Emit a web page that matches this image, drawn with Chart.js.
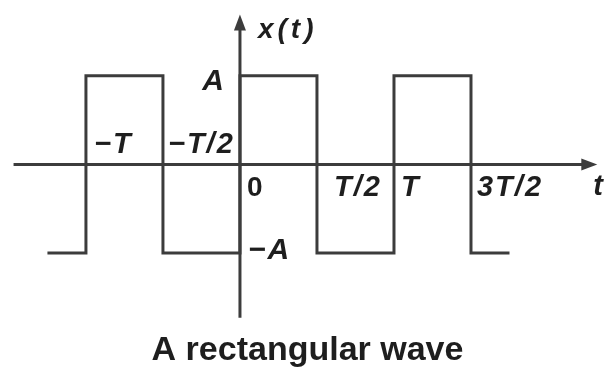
<!DOCTYPE html>
<html>
<head>
<meta charset="utf-8">
<script src="https://cdn.jsdelivr.net/npm/chart.js@4"></script>
<style>
  html, body { margin: 0; padding: 0; background: #fff; }
  #wrap { width: 615px; height: 373px; }
</style>
</head>
<body>
<div id="wrap"><canvas id="waveChart"></canvas></div>
<script>
// time is in units of T, level in units of A
const waveTime = [-1.25, -1, -1, -0.5, -0.5, 0, 0, 0.5, 0.5, 1, 1, 1.5, 1.5, 1.75];
const waveLevel = [-1, -1, 1, 1, -1, -1, 1, 1, -1, -1, 1, 1, -1, -1];

const timeTicks = [-1, -0.5, 0, 0.5, 1, 1.5];
const timeTickLabels = ["\u2212T", "\u2212T/2", "0", "T/2", "T", "3T/2"];

const levelTicks = [1, -1];
const levelTickLabels = ["A", "\u2212A"];

// extent of the drawn axes, in the same units
const timeAxisSpan = [-1.47, 2.32];
const levelAxisSpan = [-1.73, 1.69];

const ink = "#3c3c3c";
const textInk = "#1e1e1e";
const fontFamily = "'Liberation Sans', Arial, sans-serif";

document.addEventListener("DOMContentLoaded", function () {

    const canvas = document.getElementById("waveChart");

    // gap between each tick line and its label
    const tickLabelGap = [8, 5, 7, 17, 7, 6];

    function arrowHead(ctx, x, y, dir) {
        const len = 16, half = 6;
        ctx.beginPath();
        if (dir === "up") {
            ctx.moveTo(x, y);
            ctx.lineTo(x - half, y + len);
            ctx.lineTo(x + half, y + len);
        } else {
            ctx.moveTo(x, y);
            ctx.lineTo(x - len, y - half);
            ctx.lineTo(x - len, y + half);
        }
        ctx.closePath();
        ctx.fill();
    }

    const signalAxes = {
        id: "signalAxes",
        beforeDatasetsDraw(chart) {
            const ctx = chart.ctx;
            const xs = chart.scales.x;
            const ys = chart.scales.y;
            const x0 = xs.getPixelForValue(0);
            const y0 = ys.getPixelForValue(0);

            ctx.save();
            ctx.strokeStyle = ink;
            ctx.fillStyle = ink;
            ctx.lineWidth = 3;

            const xa = xs.getPixelForValue(timeAxisSpan[0]);
            const xb = xs.getPixelForValue(timeAxisSpan[1]);
            ctx.beginPath();
            ctx.moveTo(xa, y0);
            ctx.lineTo(xb - 10, y0);
            ctx.stroke();
            arrowHead(ctx, xb, y0, "right");

            const yb = ys.getPixelForValue(levelAxisSpan[0]);
            const yt = ys.getPixelForValue(levelAxisSpan[1]);
            ctx.beginPath();
            ctx.moveTo(x0, yb);
            ctx.lineTo(x0, yt + 10);
            ctx.stroke();
            arrowHead(ctx, x0, yt, "up");

            ctx.restore();
        },
        afterDatasetsDraw(chart) {
            const ctx = chart.ctx;
            const xs = chart.scales.x;
            const ys = chart.scales.y;
            const x0 = xs.getPixelForValue(0);
            const y0 = ys.getPixelForValue(0);

            ctx.save();
            ctx.fillStyle = textInk;
            ctx.textAlign = "left";
            ctx.textBaseline = "alphabetic";
            ctx.letterSpacing = "2px";

            timeTicks.forEach(function (t, i) {
                const label = timeTickLabels[i];
                const px = xs.getPixelForValue(t) + tickLabelGap[i];
                ctx.font = (label === "0" ? "bold 28px " : "italic bold 29px ") + fontFamily;
                const py = t < 0 ? y0 - 11 : y0 + 32;
                ctx.fillText(label, px, py);
            });

            ctx.font = "italic bold 30px " + fontFamily;
            levelTicks.forEach(function (v, i) {
                const py = ys.getPixelForValue(v);
                if (v > 0) {
                    ctx.textAlign = "right";
                    ctx.fillText(levelTickLabels[i], x0 - 14, py + 14);
                } else {
                    ctx.textAlign = "left";
                    ctx.fillText(levelTickLabels[i], x0 + 8, py + 6);
                }
            });

            // axis names
            ctx.textAlign = "left";
            ctx.letterSpacing = "4px";
            ctx.font = "italic bold 28px " + fontFamily;
            ctx.fillText("x(t)", x0 + 18, ys.getPixelForValue(levelAxisSpan[1]) + 23);
            ctx.letterSpacing = "0px";
            ctx.font = "italic bold 29px " + fontFamily;
            ctx.fillText("t", xs.getPixelForValue(timeAxisSpan[1]) - 4, y0 + 31);

            ctx.restore();
        }
    };

    new Chart(canvas, {
        type: "scatter",
        data: {
            datasets: [{
                data: waveTime.map(function (t, i) { return { x: t, y: waveLevel[i] }; }),
                showLine: true,
                borderColor: ink,
                borderWidth: 3,
                pointRadius: 0,
                tension: 0
            }]
        },
        options: {
            responsive: true,
            maintainAspectRatio: false,
            animation: false,
            layout: { padding: 0 },
            scales: {
                x: { type: "linear", min: -1.558, max: 2.435, display: false },
                y: { type: "linear", min: -1.870, max: 1.854, display: false }
            },
            plugins: {
                legend: { display: false },
                tooltip: { enabled: false },
                title: {
                    display: true,
                    text: "A rectangular wave",
                    position: "bottom",
                    color: textInk,
                    font: { family: fontFamily, size: 34, weight: "bold" },
                    padding: { top: 0, bottom: 2 }
                }
            }
        },
        plugins: [signalAxes]
    });
});
</script>
</body>
</html>
